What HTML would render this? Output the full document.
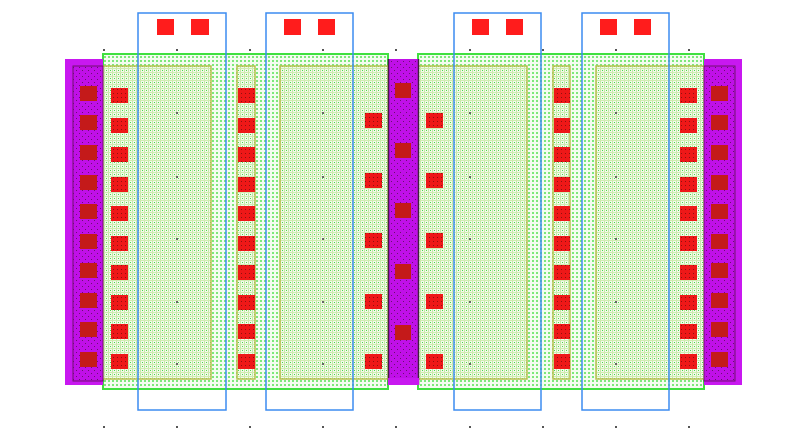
<!DOCTYPE html>
<html><head><meta charset="utf-8"><style>html,body{margin:0;padding:0;background:#fff;width:805px;height:432px;overflow:hidden}</style></head>
<body>
<svg width="805" height="432" xmlns="http://www.w3.org/2000/svg">
<defs>
<pattern id="gd" width="4" height="4" patternUnits="userSpaceOnUse"><rect width="4" height="4" fill="#f4fcf0"/><rect x="0" y="0" width="2" height="2" fill="#7de87a"/></pattern>
<pattern id="gg" width="4" height="4" patternUnits="userSpaceOnUse"><rect width="4" height="4" fill="#f2faea"/><rect x="0" y="0" width="1" height="4" fill="#c4e8a8"/><rect x="0" y="0" width="4" height="1" fill="#d0ecb0"/><rect x="2" y="2" width="1" height="1" fill="#4cd84c"/></pattern>
<pattern id="mp" width="6" height="6" patternUnits="userSpaceOnUse"><rect width="6" height="6" fill="#c010e8"/><rect x="1" y="1" width="1" height="1" fill="#6a1070"/><rect x="4" y="4" width="1" height="1" fill="#6a1070"/></pattern>
<pattern id="rp" width="4" height="4" patternUnits="userSpaceOnUse"><rect width="4" height="4" fill="#ee1818"/><rect x="1" y="1" width="1" height="1" fill="#901010"/></pattern>
</defs>
<rect x="103" y="54" width="285" height="335" fill="url(#gd)" stroke="#40e040" stroke-width="2"/>
<rect x="418" y="54" width="286" height="335" fill="url(#gd)" stroke="#40e040" stroke-width="2"/>
<g fill="url(#gg)" stroke="#b8c050" stroke-width="1.5">
<rect x="103" y="66" width="108" height="313"/>
<rect x="237" y="66" width="18" height="313"/>
<rect x="280" y="66" width="108" height="313"/>
<rect x="418" y="66" width="109" height="313"/>
<rect x="553" y="66" width="17" height="313"/>
<rect x="596" y="66" width="108" height="313"/>
</g>
<rect x="65" y="59" width="38" height="326" fill="#c818f0"/>
<rect x="73" y="66" width="30" height="315" fill="url(#mp)" stroke="#701070" stroke-width="1"/>
<rect x="704" y="59" width="38" height="326" fill="#c818f0"/>
<rect x="704" y="66" width="31" height="315" fill="url(#mp)" stroke="#701070" stroke-width="1"/>
<rect x="388" y="59" width="31" height="326" fill="url(#mp)"/>
<line x1="388.5" y1="59" x2="388.5" y2="385" stroke="#402040" stroke-width="1.5"/>
<line x1="418.5" y1="59" x2="418.5" y2="385" stroke="#402040" stroke-width="1.5"/>
<rect x="388" y="378" width="31" height="7" fill="#c818f0"/>
<g fill="#c41a1a">
<rect x="80" y="86" width="17" height="15"/><rect x="80" y="115" width="17" height="15"/><rect x="80" y="145" width="17" height="15"/><rect x="80" y="175" width="17" height="15"/><rect x="80" y="204" width="17" height="15"/><rect x="80" y="234" width="17" height="15"/><rect x="80" y="263" width="17" height="15"/><rect x="80" y="293" width="17" height="15"/><rect x="80" y="322" width="17" height="15"/><rect x="80" y="352" width="17" height="15"/>
<rect x="711" y="86" width="17" height="15"/><rect x="711" y="115" width="17" height="15"/><rect x="711" y="145" width="17" height="15"/><rect x="711" y="175" width="17" height="15"/><rect x="711" y="204" width="17" height="15"/><rect x="711" y="234" width="17" height="15"/><rect x="711" y="263" width="17" height="15"/><rect x="711" y="293" width="17" height="15"/><rect x="711" y="322" width="17" height="15"/><rect x="711" y="352" width="17" height="15"/>
<rect x="395" y="83" width="16" height="15"/><rect x="395" y="143" width="16" height="15"/><rect x="395" y="203" width="16" height="15"/><rect x="395" y="264" width="16" height="15"/><rect x="395" y="325" width="16" height="15"/>
</g>
<g fill="url(#rp)">
<rect x="111" y="88" width="17" height="15"/><rect x="111" y="118" width="17" height="15"/><rect x="111" y="147" width="17" height="15"/><rect x="111" y="177" width="17" height="15"/><rect x="111" y="206" width="17" height="15"/><rect x="111" y="236" width="17" height="15"/><rect x="111" y="265" width="17" height="15"/><rect x="111" y="295" width="17" height="15"/><rect x="111" y="324" width="17" height="15"/><rect x="111" y="354" width="17" height="15"/>
<rect x="238" y="88" width="17" height="15"/><rect x="238" y="118" width="17" height="15"/><rect x="238" y="147" width="17" height="15"/><rect x="238" y="177" width="17" height="15"/><rect x="238" y="206" width="17" height="15"/><rect x="238" y="236" width="17" height="15"/><rect x="238" y="265" width="17" height="15"/><rect x="238" y="295" width="17" height="15"/><rect x="238" y="324" width="17" height="15"/><rect x="238" y="354" width="17" height="15"/>
<rect x="554" y="88" width="16" height="15"/><rect x="554" y="118" width="16" height="15"/><rect x="554" y="147" width="16" height="15"/><rect x="554" y="177" width="16" height="15"/><rect x="554" y="206" width="16" height="15"/><rect x="554" y="236" width="16" height="15"/><rect x="554" y="265" width="16" height="15"/><rect x="554" y="295" width="16" height="15"/><rect x="554" y="324" width="16" height="15"/><rect x="554" y="354" width="16" height="15"/>
<rect x="680" y="88" width="17" height="15"/><rect x="680" y="118" width="17" height="15"/><rect x="680" y="147" width="17" height="15"/><rect x="680" y="177" width="17" height="15"/><rect x="680" y="206" width="17" height="15"/><rect x="680" y="236" width="17" height="15"/><rect x="680" y="265" width="17" height="15"/><rect x="680" y="295" width="17" height="15"/><rect x="680" y="324" width="17" height="15"/><rect x="680" y="354" width="17" height="15"/>
<rect x="365" y="113" width="17" height="15"/><rect x="365" y="173" width="17" height="15"/><rect x="365" y="233" width="17" height="15"/><rect x="365" y="294" width="17" height="15"/><rect x="365" y="354" width="17" height="15"/>
<rect x="426" y="113" width="17" height="15"/><rect x="426" y="173" width="17" height="15"/><rect x="426" y="233" width="17" height="15"/><rect x="426" y="294" width="17" height="15"/><rect x="426" y="354" width="17" height="15"/>
</g>
<g fill="#ff1c1c">
<rect x="157" y="19" width="17" height="16"/><rect x="191" y="19" width="18" height="16"/>
<rect x="284" y="19" width="17" height="16"/><rect x="318" y="19" width="17" height="16"/>
<rect x="472" y="19" width="17" height="16"/><rect x="506" y="19" width="17" height="16"/>
<rect x="600" y="19" width="17" height="16"/><rect x="634" y="19" width="17" height="16"/>
</g>
<g fill="none" stroke="#3c8cf0" stroke-width="1.5">
<rect x="138" y="13" width="88" height="397"/>
<rect x="266" y="13" width="87" height="397"/>
<rect x="454" y="13" width="87" height="397"/>
<rect x="582" y="13" width="87" height="397"/>
</g>
<g fill="#555">
<rect x="103" y="49" width="2" height="2"/><rect x="176" y="49" width="2" height="2"/><rect x="249" y="49" width="2" height="2"/><rect x="322" y="49" width="2" height="2"/><rect x="395" y="49" width="2" height="2"/><rect x="469" y="49" width="2" height="2"/><rect x="542" y="49" width="2" height="2"/><rect x="615" y="49" width="2" height="2"/><rect x="688" y="49" width="2" height="2"/>
<rect x="103" y="426" width="2" height="2"/><rect x="176" y="426" width="2" height="2"/><rect x="249" y="426" width="2" height="2"/><rect x="322" y="426" width="2" height="2"/><rect x="395" y="426" width="2" height="2"/><rect x="469" y="426" width="2" height="2"/><rect x="542" y="426" width="2" height="2"/><rect x="615" y="426" width="2" height="2"/><rect x="688" y="426" width="2" height="2"/>
</g>
<g fill="#666">
<rect x="176" y="112" width="2" height="2"/><rect x="322" y="112" width="2" height="2"/><rect x="469" y="112" width="2" height="2"/><rect x="615" y="112" width="2" height="2"/>
<rect x="176" y="176" width="2" height="2"/><rect x="322" y="176" width="2" height="2"/><rect x="469" y="176" width="2" height="2"/><rect x="615" y="176" width="2" height="2"/>
<rect x="176" y="238" width="2" height="2"/><rect x="322" y="238" width="2" height="2"/><rect x="469" y="238" width="2" height="2"/><rect x="615" y="238" width="2" height="2"/>
<rect x="176" y="301" width="2" height="2"/><rect x="322" y="301" width="2" height="2"/><rect x="469" y="301" width="2" height="2"/><rect x="615" y="301" width="2" height="2"/>
<rect x="176" y="363" width="2" height="2"/><rect x="322" y="363" width="2" height="2"/><rect x="469" y="363" width="2" height="2"/><rect x="615" y="363" width="2" height="2"/>
</g>
</svg>
</body></html>
